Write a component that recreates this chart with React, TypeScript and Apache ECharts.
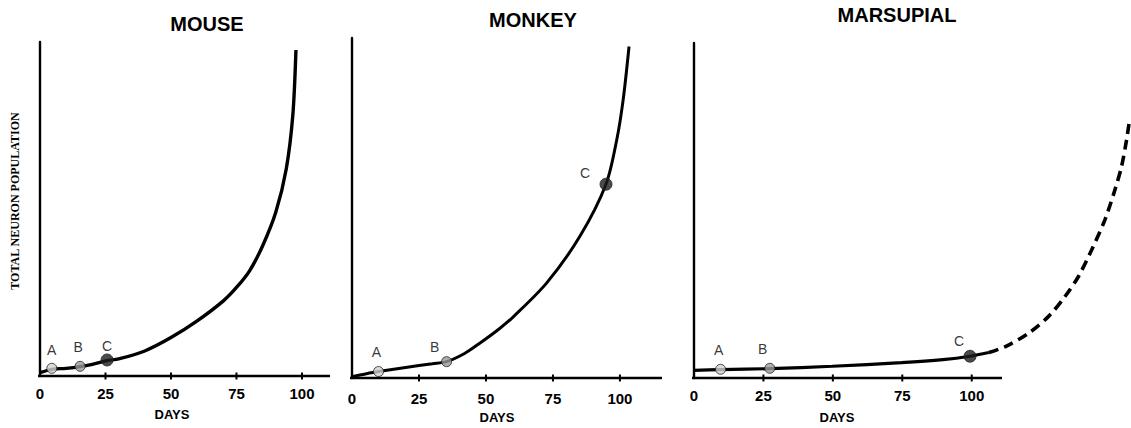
import React, { useEffect, useRef } from 'react';
import * as echarts from 'echarts';

// ---- data ----
const panelTitles = ['MOUSE', 'MONKEY', 'MARSUPIAL'];
const xAxisName = 'DAYS';
const yAxisName = 'TOTAL NEURON POPULATION';
const dayTickValues = [25, 50, 75, 100];
const dayLabelValues = [0, 25, 50, 75, 100];
const stageNames = ['A', 'B', 'C'];

// [day, population (relative units)]
const mouseCurve = [
  [0, 1], [4.5, 2], [10, 2.3], [15.3, 2.8], [20, 3.5], [25.6, 4.6], [30, 5.1], [40, 7.5],
  [50, 11.5], [60, 16.5], [70, 22.5], [75, 26.5], [80, 31.5], [85, 39], [90, 49], [94, 62],
  [96.5, 78], [97.7, 97.6],
];
const mouseStages = [[4.5, 2.3], [15.3, 2.9], [25.6, 4.8]];

const monkeyCurve = [
  [0, 0.4], [5, 1.2], [9.9, 1.9], [20, 3.1], [30, 4.2], [35.3, 4.8], [42, 7.2], [47.8, 10.3],
  [55, 14.5], [60.2, 18], [72.6, 27.9], [85, 41.6], [94.8, 57], [98.8, 70], [101.2, 81.8], [103.4, 97.5],
];
const monkeyStages = [[9.9, 1.9], [35.3, 4.8], [94.8, 57]];

const marsupialCurve = [
  [0, 2.3], [9.6, 2.5], [27.4, 2.8], [50, 3.5], [75, 4.6], [90, 5.5], [99.8, 6.5], [106.6, 7.6],
];
const marsupialProjection = [
  [106.6, 7.6], [112.6, 9.4], [121, 13.4], [128.2, 18.4], [134.2, 24.4], [139, 30.3],
  [143.8, 38.3], [148.6, 47.3], [152.2, 56.2], [154.6, 63.2], [156.4, 71.1], [157.3, 76.1],
];
const marsupialStages = [[9.6, 2.6], [27.4, 2.9], [99.8, 6.5]];

// ---- layout / style ----
// grids 0-2: the three drawn axis frames; grid 3: wider plotting area of the marsupial panel
const grids = [
  { left: 40, top: 42, width: 290, height: 334, xMax: 110.7, labelMargin: 10 },
  { left: 352, top: 38, width: 310, height: 340, xMax: 115.7, labelMargin: 13 },
  { left: 694, top: 43, width: 308, height: 335, xMax: 110.9, labelMargin: 10 },
];
const wideGrid = { left: 694, top: 43, width: 438.8, height: 335, xMax: 158 };
const titlePos = [[207, 24], [533, 20], [897, 15]];
const daysPos = [[172, 414], [497, 417], [837, 417]];
const stageLabelOffsets = [
  [[0, -18], [-2, -19], [0, -14]],
  [[-2, -20], [-12, -15], [-21, -11]],
  [[-2, -19], [-7, -19], [-11, -15]],
];
const stageFill = ['#d2d2d2', '#9a9a9a', '#1e1e1e'];
const stageSize = [10, 10, 12];
const lineWidths = [3.4, 3, 3.2];

const SANS = '"Liberation Sans", Arial, Helvetica, sans-serif';
const SERIF = '"Liberation Serif", "Times New Roman", serif';

export default function App() {
  const ref = useRef<HTMLDivElement>(null);

  useEffect(() => {
    document.body.style.margin = '0';
    if (!ref.current) return;
    const chart = echarts.init(ref.current, undefined, { renderer: 'svg' });

    const curves = [mouseCurve, monkeyCurve, marsupialCurve];
    const stages = [mouseStages, monkeyStages, marsupialStages];

    const xAxes: any[] = [];
    const yAxes: any[] = [];
    const series: any[] = [];

    grids.forEach((g, i) => {
      xAxes.push({
        type: 'value', gridIndex: i, min: 0, max: g.xMax, interval: 25,
        axisLine: { show: false, onZero: false },
        axisTick: { show: false },
        axisLabel: {
          show: true, margin: g.labelMargin, color: '#000', fontFamily: SANS, fontWeight: 'bold', fontSize: 15,
          formatter: (v: number) => (dayLabelValues.indexOf(v) >= 0 ? String(v) : ''),
        },
        splitLine: { show: false },
      });
      yAxes.push({
        type: 'value', gridIndex: i, min: 0, max: 100,
        axisLine: { show: true, onZero: false, lineStyle: { color: '#000', width: 2.4 } },
        axisTick: { show: false }, axisLabel: { show: false }, splitLine: { show: false },
      });
    });
    xAxes.push({
      type: 'value', gridIndex: 3, min: 0, max: wideGrid.xMax, show: false,
      axisLine: { show: false }, splitLine: { show: false },
    });
    yAxes.push({ type: 'value', gridIndex: 3, min: 0, max: 100, show: false, splitLine: { show: false } });

    const seriesAxes = [
      { x: 0, y: 0 },
      { x: 1, y: 1 },
      { x: 3, y: 3 },
    ];

    curves.forEach((c, i) => {
      series.push({
        type: 'line', xAxisIndex: seriesAxes[i].x, yAxisIndex: seriesAxes[i].y, data: c, symbol: 'none',
        smooth: 0.3,
        lineStyle: { color: '#000', width: lineWidths[i] }, z: 3,
      });
      if (i === 2) {
        series.push({
          type: 'line', xAxisIndex: seriesAxes[i].x, yAxisIndex: seriesAxes[i].y, data: marsupialProjection,
          symbol: 'none', smooth: 0.3,
          lineStyle: { color: '#000', width: 3.6, type: [10, 6] }, z: 3,
        });
      }
      series.push({
        type: 'scatter', xAxisIndex: seriesAxes[i].x, yAxisIndex: seriesAxes[i].y, z: 5,
        data: stages[i].map((p, k) => ({
          name: stageNames[k],
          value: p,
          symbolSize: stageSize[k],
          itemStyle: { color: stageFill[k], borderColor: '#222', borderWidth: 1 },
          label: {
            show: true, formatter: stageNames[k], position: 'inside', offset: stageLabelOffsets[i][k],
            color: '#000', fontFamily: SANS, fontSize: 14,
          },
        })),
      });
    });

    const graphics: any[] = [];
    panelTitles.forEach((t, i) => {
      graphics.push({
        type: 'text', x: titlePos[i][0], y: titlePos[i][1],
        style: { text: t, fill: '#000', font: `bold 20px ${SANS}`, textAlign: 'center', textVerticalAlign: 'middle' },
      });
      graphics.push({
        type: 'text', x: daysPos[i][0], y: daysPos[i][1],
        style: { text: xAxisName, fill: '#000', font: `bold 13px ${SANS}`, textAlign: 'center', textVerticalAlign: 'middle' },
      });
    });
    graphics.push({
      type: 'text', x: 15, y: 201, rotation: Math.PI / 2,
      style: { text: yAxisName, fill: '#000', font: `bold 12px ${SERIF}`, textAlign: 'center', textVerticalAlign: 'middle' },
    });

    const allGrids = [...grids, wideGrid];
    chart.setOption({
      animation: false,
      grid: allGrids.map((g) => ({ left: g.left, top: g.top, width: g.width, height: g.height })),
      xAxis: xAxes,
      yAxis: yAxes,
      series,
      graphic: graphics,
    });

    // day axes (baseline + crossing ticks) placed through each grid's own scales
    const axisGraphics: any[] = [];
    grids.forEach((g, i) => {
      const p0 = chart.convertToPixel({ gridIndex: i } as any, [0, 0]) as number[];
      const p1 = chart.convertToPixel({ gridIndex: i } as any, [g.xMax, 0]) as number[];
      if (!p0 || !p1) return;
      axisGraphics.push({
        type: 'line', z: 10, silent: true,
        shape: { x1: p0[0] - 2, y1: p0[1], x2: p1[0], y2: p1[1] },
        style: { stroke: '#000', lineWidth: 2.6 },
      });
      dayTickValues.forEach((d) => {
        const p = chart.convertToPixel({ gridIndex: i } as any, [d, 0]) as number[];
        axisGraphics.push({
          type: 'line', z: 10, silent: true,
          shape: { x1: p[0], y1: p[1] - 3.5, x2: p[0], y2: p[1] + 3.5 },
          style: { stroke: '#000', lineWidth: 2 },
        });
      });
    });
    chart.setOption({ graphic: [...graphics, ...axisGraphics] });

    return () => chart.dispose();
  }, []);

  return <div ref={ref} style={{ width: 1131, height: 428 }} />;
}
